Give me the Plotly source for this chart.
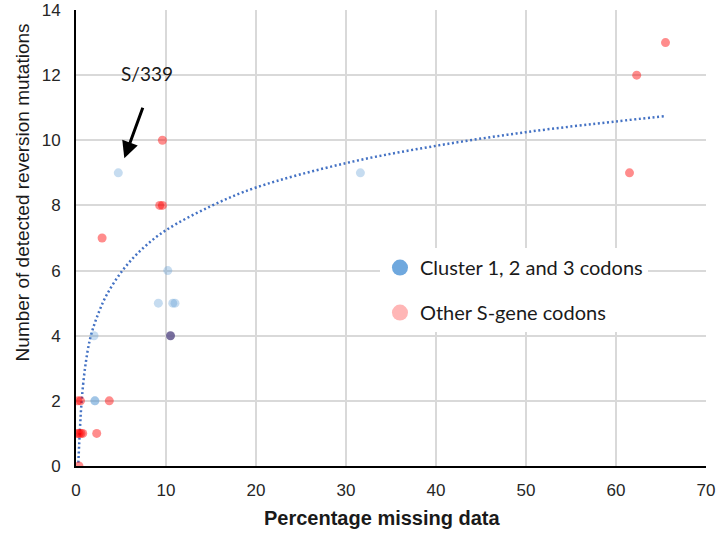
import plotly.graph_objects as go

# Scatter of reversion mutations vs missing data
cluster_x = [4.7, 31.6, 10.2, 9.15, 10.75, 11.0, 2.0, 2.1, 2.1]
cluster_y = [9, 9, 6, 5, 5, 5, 4, 2, 2]

other_x = [9.6, 9.3, 9.6, 2.9, 3.7, 0.2, 0.5, 0.15, 0.35, 0.55, 0.75, 2.3, 0.33, 61.5, 62.3, 65.5]
other_y = [10, 8, 8, 7, 2, 2, 2, 1, 1, 1, 1, 1, 0, 9, 12, 13]

# point where both series overlap (drawn darker in the original)
overlap_x = [10.5]
overlap_y = [4]

# logarithmic trendline
trend_x = [0.26, 0.44, 0.63, 1.0, 1.56, 2.3, 3.4, 5.3, 7.5, 10, 15, 20, 30, 40, 50, 60, 65.4]
trend_y = [0.1, 1.15, 2.0, 3.0, 3.9, 4.55, 5.25, 6.05, 6.7, 7.24, 7.98, 8.55, 9.3, 9.83, 10.25, 10.58, 10.74]

x_ticks = [0, 10, 20, 30, 40, 50, 60, 70]
y_ticks = [0, 2, 4, 6, 8, 10, 12, 14]

legend_names = ["Cluster 1, 2 and 3 codons", "Other S-gene codons"]

BLUE = "rgba(91,155,213,0.35)"
RED = "rgba(255,0,0,0.45)"

fig = go.Figure()

fig.add_scatter(x=trend_x, y=trend_y, mode="lines", showlegend=False, hoverinfo="skip",
                line=dict(color="#4472C4", width=2.5, dash="2px,2.6px", shape="spline", smoothing=1))

fig.add_scatter(x=cluster_x, y=cluster_y, mode="markers", showlegend=False,
                marker=dict(size=9, color=BLUE, line_width=0))
fig.add_scatter(x=other_x, y=other_y, mode="markers", showlegend=False,
                marker=dict(size=9, color=RED, line_width=0))
fig.add_scatter(x=overlap_x, y=overlap_y, mode="markers", showlegend=False,
                marker=dict(size=9, color="rgba(95,85,140,0.85)", line_width=0))

# legend entries (solid swatches like in the original)
fig.add_scatter(x=[None], y=[None], mode="markers", name=legend_names[0], legendgroup="a",
                marker=dict(size=16, color="rgb(111,168,222)"))
fig.add_scatter(x=[None], y=[None], mode="markers", name=legend_names[1], legendgroup="b",
                marker=dict(size=16, color="rgb(255,182,182)"))

fig.update_xaxes(range=[0, 70], tickvals=x_ticks, showgrid=True, gridcolor="#d9d9d9", gridwidth=2,
                 zeroline=False, showline=True, linecolor="black", linewidth=2, ticks="",
                 automargin=False, ticklabelstandoff=8,
                 tickfont=dict(family="Liberation Sans", size=17, color="#262626"))
fig.update_yaxes(range=[0, 14], tickvals=y_ticks, showgrid=True, gridcolor="#d9d9d9", gridwidth=2,
                 zeroline=False, showline=True, linecolor="black", linewidth=2, ticks="",
                 automargin=False, ticklabelstandoff=10,
                 tickfont=dict(family="Liberation Sans", size=17, color="#262626"))

fig.add_annotation(text="Number of detected reversion mutations", textangle=-90,
                   xref="paper", yref="paper", x=0, y=0.6, xshift=-54, showarrow=False,
                   xanchor="center", yanchor="middle",
                   font=dict(family="Liberation Sans", size=19, color="#1a1a1a"))
fig.add_annotation(text="<b>Percentage missing data</b>",
                   xref="paper", yref="paper", x=0.486, y=0, yshift=-52, showarrow=False,
                   xanchor="center", yanchor="middle",
                   font=dict(family="Liberation Sans", size=20, color="#1a1a1a"))

# S/339 label and arrow
fig.add_annotation(x=5.37, y=9.45, text="", showarrow=True, ax=19, ay=-52,
                   arrowhead=2, arrowsize=1.1, arrowwidth=3, arrowcolor="black", standoff=0)
fig.add_annotation(x=7.9, y=12.05, text="S/339", showarrow=False,
                   font=dict(family="Lato", size=19, color="#1a1a1a"))

fig.update_layout(
    width=720, height=534,
    margin=dict(l=76, r=14, t=10, b=68),
    plot_bgcolor="white", paper_bgcolor="white",
    showlegend=True,
    legend=dict(x=0.4825, y=0.478, xanchor="left", yanchor="top", bgcolor="white",
                tracegroupgap=16, font=dict(family="Lato", size=20, color="#1a1a1a")),
)

# page body has a default 8px margin; drop it so the figure sits at the window corner
fig.write_html("out.html", config={"displayModeBar": False},
               post_script="document.body.style.margin='0';")
